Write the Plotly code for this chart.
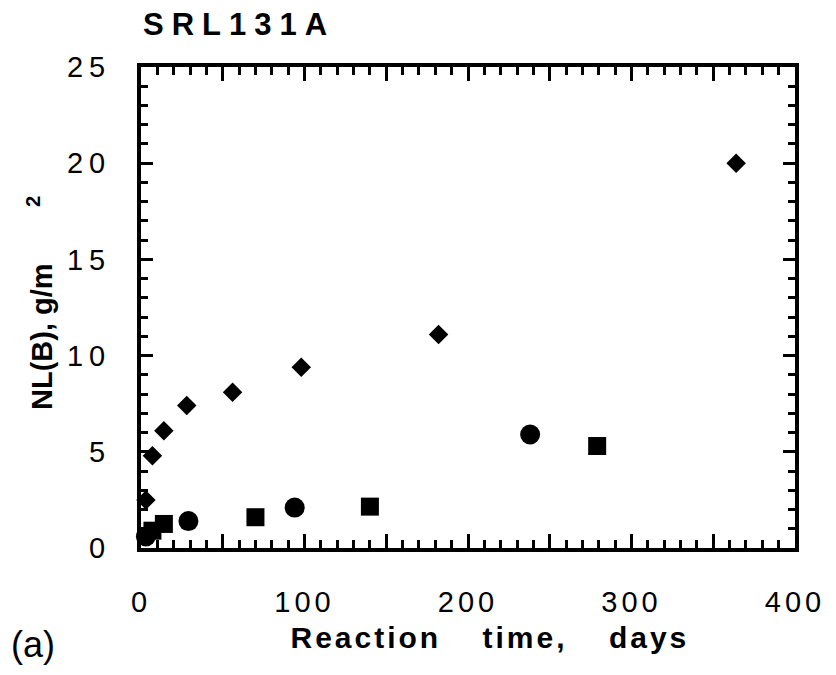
import plotly.graph_objects as go

# Boron normalized mass loss NL(B) for glass SRL131A vs reaction time
diamond_days = [3, 7, 14, 28, 56, 98, 182, 364]
diamond_nl = [2.5, 4.8, 6.1, 7.4, 8.1, 9.4, 11.1, 20.0]

circle_days = [3, 29, 94, 238]
circle_nl = [0.6, 1.4, 2.1, 5.9]

square_days = [7, 14, 70, 140, 279]
square_nl = [0.9, 1.25, 1.6, 2.15, 5.3]

x_tick_vals = [0, 50, 100, 150, 200, 250, 300, 350, 400]
x_tick_text = ["0", "", "100", "", "200", "", "300", "", "400"]
y_tick_vals = [0, 5, 10, 15, 20, 25]
y_tick_text = ["0", "5", "10", "15", "20", "25"]

FONT = "Liberation Sans, Arial, Helvetica, sans-serif"
NBSP = "\u00a0"

fig = go.Figure()
fig.add_trace(go.Scatter(x=diamond_days, y=diamond_nl, mode="markers", cliponaxis=False,
                         marker=dict(symbol="diamond", size=15, color="black"), showlegend=False))
fig.add_trace(go.Scatter(x=circle_days, y=circle_nl, mode="markers", cliponaxis=False,
                         marker=dict(symbol="circle", size=20, color="black"), showlegend=False))
fig.add_trace(go.Scatter(x=square_days, y=square_nl, mode="markers", cliponaxis=False,
                         marker=dict(symbol="square", size=18, color="black"), showlegend=False))

axis_common = dict(
    showgrid=False, zeroline=False, showline=True, linecolor="black", linewidth=4,
    mirror="ticks", ticks="inside", tickcolor="black", tickwidth=2.5,
    tickfont=dict(family=FONT, size=29, color="black"),
)

fig.update_xaxes(range=[0, 400], tickmode="array", tickvals=x_tick_vals, ticktext=x_tick_text,
                 ticklen=14, ticklabelstandoff=25,
                 minor=dict(dtick=10, ticks="inside", ticklen=8, tickwidth=2.5, tickcolor="black"),
                 **axis_common)
fig.update_yaxes(range=[0, 25], tickmode="array", tickvals=y_tick_vals, ticktext=y_tick_text,
                 ticklen=12, ticklabelstandoff=20,
                 minor=dict(dtick=1, ticks="inside", ticklen=7, tickwidth=2.5, tickcolor="black"),
                 **axis_common)

fig.update_layout(
    width=836, height=675,
    margin=dict(l=141, r=41, t=67, b=127),
    paper_bgcolor="white", plot_bgcolor="white",
    title=dict(text="<b>SRL131A</b>", x=143 / 836, xref="container", xanchor="left",
               y=1 - 24.5 / 675, yref="container", yanchor="middle",
               font=dict(family=FONT, size=31, color="black")),
    annotations=[
        dict(text="<b>Reaction time, days</b>", xref="paper", yref="paper",
             x=(490 - 141) / 654, y=(548 - 637) / 481, xanchor="center", yanchor="middle",
             showarrow=False, font=dict(family=FONT, size=30, color="black")),
        dict(text="<b>NL(B), g/m" + NBSP * 7 + "<sup>2</sup></b>", xref="paper", yref="paper",
             x=(40 - 141) / 654, y=(548 - 303) / 481, xanchor="center", yanchor="middle",
             textangle=-90, showarrow=False, font=dict(family=FONT, size=29, color="black")),
        dict(text="(a)", xref="paper", yref="paper",
             x=(33 - 141) / 654, y=(548 - 644) / 481, xanchor="center", yanchor="middle",
             showarrow=False, font=dict(family=FONT, size=36, color="black")),
    ],
)

# Wide letter spacing of the typeset labels
spacing_js = """
var gd = document.getElementById('{plot_id}');
function spread(nodes, ls, ws) {
  nodes.forEach(function (t) {
    t.style.letterSpacing = ls;
    if (ws) { t.style.wordSpacing = ws; }
  });
}
spread(gd.querySelectorAll('.gtitle'), '8px');
spread(gd.querySelectorAll('.xtick text'), '4px');
spread(gd.querySelectorAll('.ytick text'), '6px');
var notes = gd.querySelectorAll('.annotation-text');
spread([notes[0]], '3px', '30px');
"""

fig.write_html("out.html", post_script=spacing_js)
